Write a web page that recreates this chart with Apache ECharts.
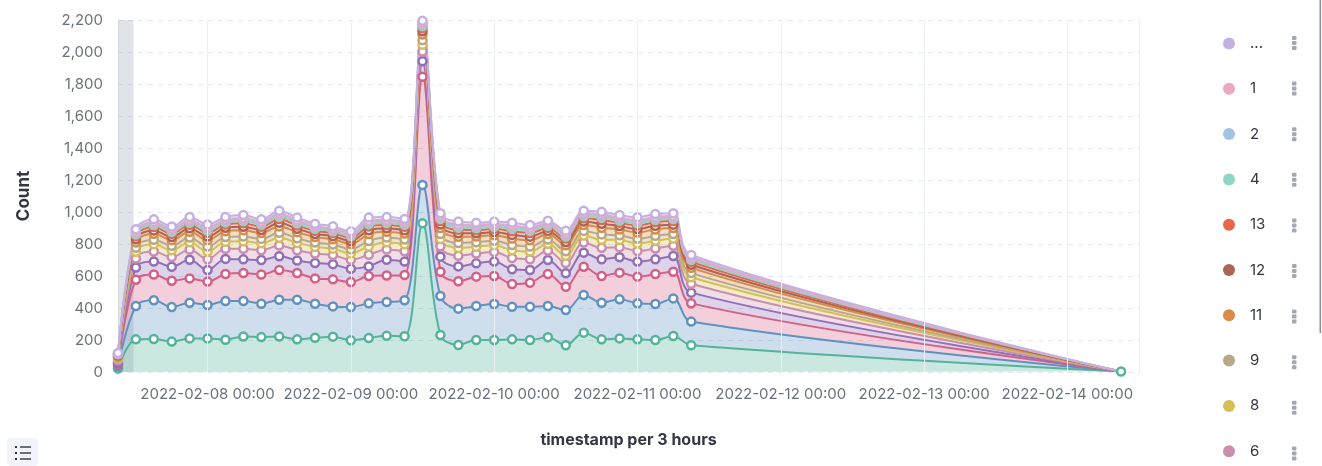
<!DOCTYPE html>
<html><head><meta charset="utf-8">
<script src="https://cdn.jsdelivr.net/npm/echarts@6/dist/echarts.min.js"></script>
<style>html,body{margin:0;padding:0;background:#fff;}#c{width:1322px;height:466px;}</style>
</head><body><div id="c"></div>
<script>
// ---- data ----
const timestamps = [
  '2022-02-07 09:00','2022-02-07 12:00','2022-02-07 15:00','2022-02-07 18:00','2022-02-07 21:00',
  '2022-02-08 00:00','2022-02-08 03:00','2022-02-08 06:00','2022-02-08 09:00','2022-02-08 12:00','2022-02-08 15:00','2022-02-08 18:00','2022-02-08 21:00',
  '2022-02-09 00:00','2022-02-09 03:00','2022-02-09 06:00','2022-02-09 09:00','2022-02-09 12:00','2022-02-09 15:00','2022-02-09 18:00','2022-02-09 21:00',
  '2022-02-10 00:00','2022-02-10 03:00','2022-02-10 06:00','2022-02-10 09:00','2022-02-10 12:00','2022-02-10 15:00','2022-02-10 18:00','2022-02-10 21:00',
  '2022-02-11 00:00','2022-02-11 03:00','2022-02-11 06:00','2022-02-11 09:00',
  '2022-02-14 09:00'
];
const xTickLabels = ['2022-02-08 00:00','2022-02-09 00:00','2022-02-10 00:00','2022-02-11 00:00','2022-02-12 00:00','2022-02-13 00:00','2022-02-14 00:00'];
const xMin = '2022-02-07 09:00';
const xMax = '2022-02-14 12:00';
const timeRangeStart = '2022-02-07 11:35';
const yMax = 2200, yStep = 200;

// stack order bottom -> top
const seriesNames  = ['7','10','3','5','6','8','9','11','12','13','4','2','1','...'];
const seriesColors = ['#54B399','#6092C0','#D36086','#9170B8','#CA8EAE','#D6BF57','#B9A888','#DA8B45','#AA6556','#E7664C','#8FD6C4','#A3C3E3','#EBA7C4','#C4B0E3'];
const legendOrder  = ['...','1','2','4','13','12','11','9','8','6','5','3','10','7'];

const v7   = [22,204,206,190,210,210,202,222,218,222,204,214,221,198,212,226,223,929,231,169,200,200,204,200,217,167,246,204,210,204,200,225,167,3];
const v10  = [15,208,242,216,223,209,242,222,209,230,248,213,189,208,217,212,225,240,244,227,212,225,204,208,195,220,235,229,244,225,225,235,148,0];
const v3   = [13,165,161,164,152,146,168,175,182,185,167,158,169,156,171,165,158,677,152,171,184,175,142,150,200,146,177,167,167,167,187,167,114,0];
const v5   = [10,76,81,88,117,72,95,85,91,86,78,96,95,83,60,99,84,96,94,93,83,90,92,79,88,84,88,104,96,94,92,98,67,0];
const v6   = [14,57,63,60,64,68,63,66,61,68,64,59,57,56,73,64,64,61,65,67,61,60,70,68,59,64,63,72,63,66,68,64,56,0];
const v8   = [10,41,45,43,45,48,44,47,43,48,46,42,40,40,52,45,45,43,46,48,43,42,49,48,42,45,44,51,45,47,48,45,40,0];
const v9   = [7,26,29,28,29,31,29,30,28,31,29,27,26,26,34,29,29,28,30,31,28,28,32,31,27,29,29,33,29,30,31,29,26,0];
const v11  = [8,33,37,35,37,40,37,39,36,40,38,34,33,33,43,37,37,35,38,39,36,35,41,39,34,37,37,42,37,39,40,37,33,0];
const v12  = [5,19,21,20,21,23,21,22,20,23,21,20,19,19,24,21,21,20,22,22,20,20,23,23,20,21,21,24,21,22,23,21,19,0];
const v13  = [5,19,21,20,22,23,21,22,20,23,21,20,19,19,24,21,22,20,22,22,20,20,23,23,20,21,21,24,21,22,23,22,19,0];
const v4   = [3,12,13,13,13,14,13,14,13,14,13,12,12,12,15,13,13,13,14,14,13,12,15,14,12,13,13,15,13,14,14,13,12,0];
const v2   = [2,10,11,10,11,12,10,11,10,12,11,10,9,9,12,11,11,10,11,11,10,10,12,11,10,11,10,12,11,11,11,11,9,0];
const v1   = [2,7,8,8,8,9,8,8,8,9,8,7,7,7,9,8,8,8,8,8,8,8,9,8,7,8,8,9,8,8,9,8,7,0];
const vOth = [3,15,16,15,17,17,16,18,15,17,17,15,15,13,19,17,17,15,15,18,15,15,17,17,15,17,16,16,16,18,17,17,14,0];
const seriesValues = [v7,v10,v3,v5,v6,v8,v9,v11,v12,v13,v4,v2,v1,vOth];

// ---- chart ----
const P = s => echarts.number.parseDate(s).getTime();
const pad2 = n => (n < 10 ? '0' : '') + n;
const fmt = v => { const d = new Date(v); return d.getFullYear() + '-' + pad2(d.getMonth() + 1) + '-' + pad2(d.getDate()) + ' ' + pad2(d.getHours()) + ':' + pad2(d.getMinutes()); };
const chart = echarts.init(document.getElementById('c'), null, {renderer: 'canvas'});
const FONT = 'Inter, "Noto Sans", sans-serif';
const tickVals = xTickLabels.map(P);

const series = seriesNames.map((name, si) => {
  const c = seriesColors[si];
  const vals = seriesValues[si];
  // value first so that the stack is computed on the count dimension
  const data = timestamps.map((t, i) => {
    const item = {value: [vals[i], P(t)]};
    if (si > 0 && i === timestamps.length - 1) item.symbol = 'none';
    return item;
  });
  const s = {
    name, type: 'line', stack: 'total', data,
    encode: {x: 1, y: 0},
    smooth: 0.35,
    symbol: 'circle', symbolSize: 8, showSymbol: true,
    lineStyle: {color: c, width: 2},
    areaStyle: {color: c, opacity: 0.3},
    itemStyle: {color: '#fff', borderColor: c, borderWidth: 2.5},
    emphasis: {disabled: true},
    z: 2
  };
  if (si === 0) {
    s.markLine = {
      silent: true, symbol: 'none', label: {show: false},
      lineStyle: {color: '#ECEFF3', width: 1, type: 'solid'},
      data: tickVals.map(v => ({xAxis: v}))
    };
  }
  if (si === seriesNames.length - 1) {
    s.markArea = {
      silent: true,
      itemStyle: {color: 'rgba(152,162,179,0.3)'},
      data: [[{xAxis: P(xMin)}, {xAxis: P(timeRangeStart)}]]
    };
  }
  return s;
});

const legendTop = 31, legendStep = 45.6, legendFirstCenter = 43;
const dots = [];
for (let k = 0; k < 10; k++) {
  const cy = legendFirstCenter + k * legendStep;
  for (let j = 0; j < 3; j++) {
    dots.push({type: 'rect', shape: {x: 1292, y: cy - 7 + j * 5, width: 4.5, height: 4, r: 1.2},
      style: {fill: '#A2A7B0'}, silent: true});
  }
}

chart.setOption({
  animation: false,
  backgroundColor: '#fff',
  grid: {left: 118, right: 183, top: 20, bottom: 94},
  xAxis: {
    type: 'value', min: P(xMin), max: P(xMax),
    name: 'timestamp per 3 hours', nameLocation: 'middle', nameGap: 60,
    nameTextStyle: {fontFamily: FONT, fontWeight: 'bold', fontSize: 16, color: '#343741'},
    axisLine: {show: false}, axisTick: {show: false, customValues: tickVals},
    axisLabel: {customValues: tickVals, margin: 15, fontFamily: FONT, fontSize: 15, color: '#69707D',
      formatter: v => fmt(v)},
    splitLine: {show: false}
  },
  yAxis: [{
    type: 'value', min: 0, max: yMax, interval: yStep,
    name: 'Count', nameLocation: 'middle', nameGap: 86, nameRotate: 90,
    nameTextStyle: {fontFamily: FONT, fontWeight: 'bold', fontSize: 17, color: '#343741'},
    axisLine: {show: true, lineStyle: {color: '#ECEFF3'}}, axisTick: {show: false},
    axisLabel: {margin: 15, fontFamily: FONT, fontSize: 15, color: '#69707D',
      formatter: v => v.toLocaleString('en-US')},
    splitLine: {show: true, lineStyle: {color: '#E3E6EB', type: [5, 5], width: 1}}
  }, {
    type: 'value', min: 0, max: yMax, interval: yStep, position: 'right',
    axisLine: {show: true, lineStyle: {color: '#ECEFF3'}}, axisTick: {show: false},
    axisLabel: {show: false}, splitLine: {show: false}
  }],
  legend: {
    orient: 'vertical', left: 1218, top: legendTop, height: 1200, itemWidth: 12, itemHeight: 12,
    itemGap: legendStep - 15.3, icon: 'circle', selectedMode: false,
    data: legendOrder.map(n => ({name: n, itemStyle: {color: seriesColors[seriesNames.indexOf(n)], borderWidth: 0}})),
    formatter: n => '{n|' + n + '}',
    textStyle: {rich: {n: {fontFamily: FONT, fontSize: 15, color: '#343741', padding: [0, 0, 0, 10], lineHeight: 16}}}
  },
  graphic: [
    ...dots,
    {type: 'rect', shape: {x: 1319.5, y: 0, width: 1.6, height: 333}, style: {fill: '#8A8F98'}, silent: true},
    {type: 'rect', shape: {x: 7, y: 438, width: 31, height: 28, r: 4}, style: {fill: '#F1F4FA'}, silent: true},
    {type: 'rect', shape: {x: 15, y: 446, width: 2, height: 2}, style: {fill: '#343741'}, silent: true},
    {type: 'rect', shape: {x: 15, y: 452, width: 2, height: 2}, style: {fill: '#343741'}, silent: true},
    {type: 'rect', shape: {x: 15, y: 458, width: 2, height: 2}, style: {fill: '#343741'}, silent: true},
    {type: 'rect', shape: {x: 20, y: 446.3, width: 11, height: 1.4}, style: {fill: '#343741'}, silent: true},
    {type: 'rect', shape: {x: 20, y: 452.3, width: 11, height: 1.4}, style: {fill: '#343741'}, silent: true},
    {type: 'rect', shape: {x: 20, y: 458.3, width: 11, height: 1.4}, style: {fill: '#343741'}, silent: true}
  ],
  series
});
</script></body></html>
